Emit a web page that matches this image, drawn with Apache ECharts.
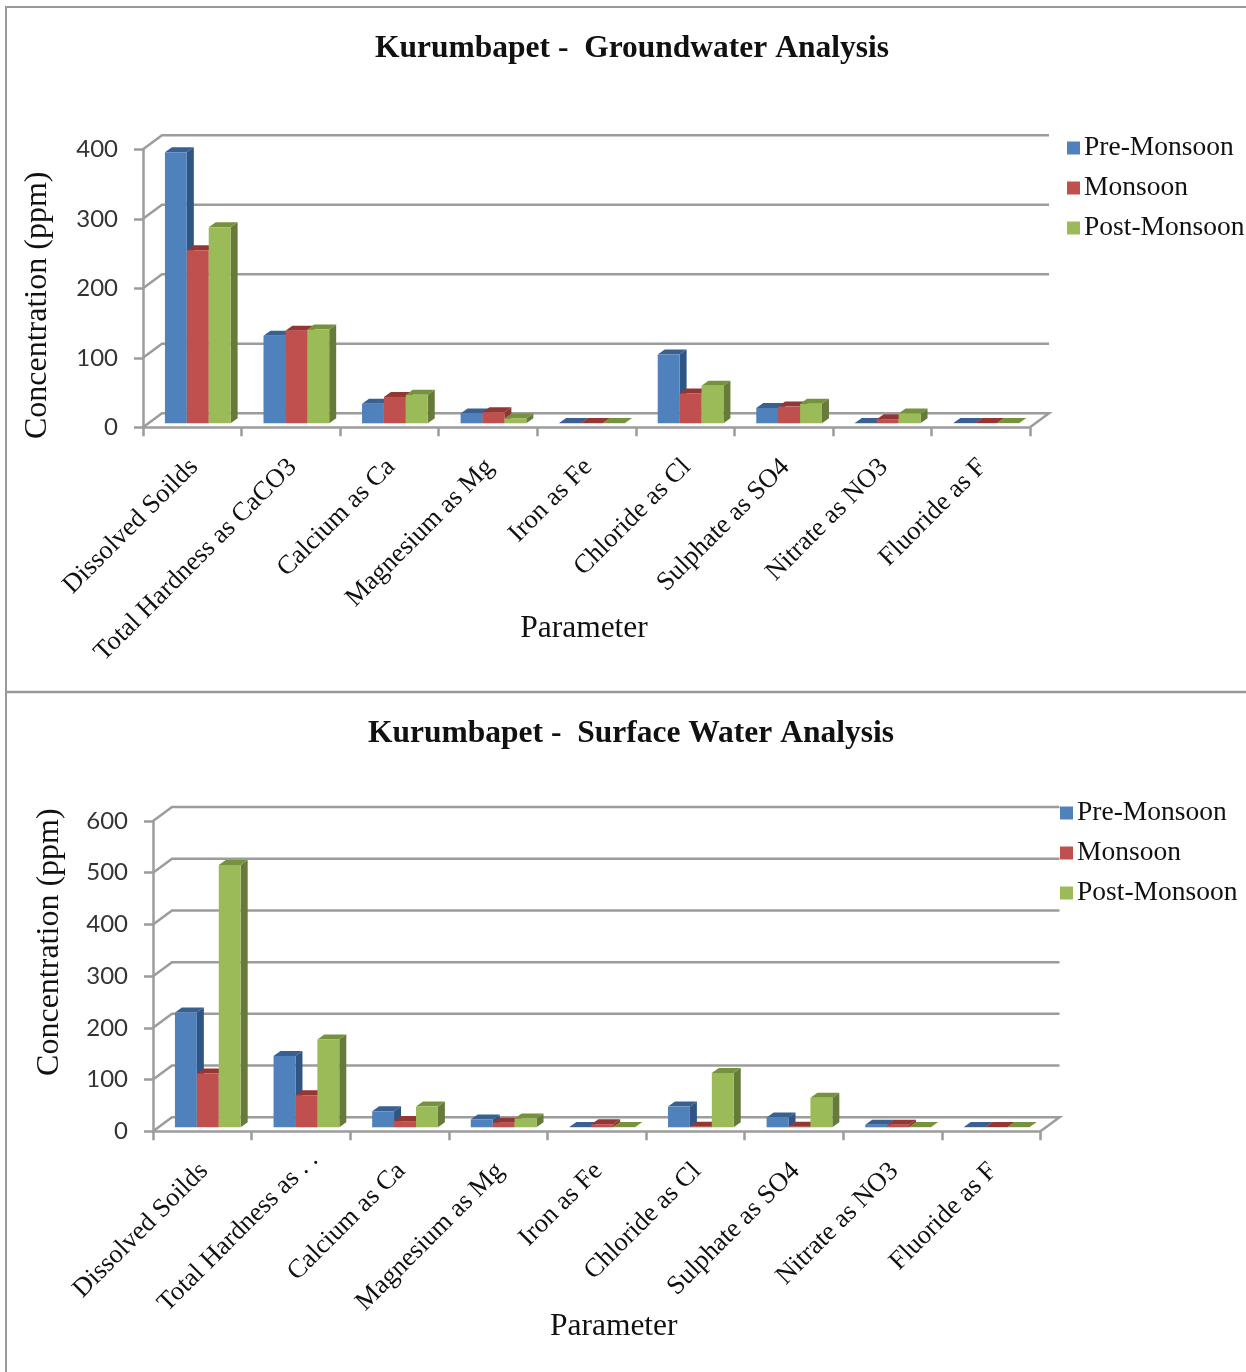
<!DOCTYPE html>
<html>
<head>
<meta charset="utf-8">
<title>Kurumbapet water analysis</title>
<style>html,body{margin:0;padding:0;background:#fff}#chart{width:1246px;height:1372px}</style>
<script src="https://cdn.jsdelivr.net/npm/echarts@6/dist/echarts.min.js"></script>
</head>
<body>
<div id="chart"></div>
<script>
// Category labels
const groundCategories = ['Dissolved Soilds','Total Hardness as CaCO3','Calcium as Ca','Magnesium as Mg','Iron as Fe','Chloride as Cl','Sulphate as SO4','Nitrate as NO3','Fluoride as F'];
const surfaceCategories = ['Dissolved Soilds','Total Hardness as . .','Calcium as Ca','Magnesium as Mg','Iron as Fe','Chloride as Cl','Sulphate as SO4','Nitrate as NO3','Fluoride as F'];
const shortenedLabel = 'Total Hardness as . .';

// Season names
const seasons = ['Pre-Monsoon','Monsoon','Post-Monsoon'];

// Groundwater concentrations (ppm)
const groundPre  = [390,126,28,14,0.5,99,22,0.5,0.3];
const groundMon  = [249,133,38,16,0.5,43,24,6,0.3];
const groundPost = [282,135,41,7,0.5,54,28,14,0.3];

// Surface water concentrations (ppm)
const surfacePre  = [222,138,31,15,0.5,40,19,5,0.5];
const surfaceMon  = [104,62,12,9,6,1,1,5,0.5];
const surfacePost = [507,170,40,17,0.5,105,57,0.5,0.5];

// Value axis ticks
const groundTicks = [0,100,200,300,400];
const surfaceTicks = [0,100,200,300,400,500,600];

// Face colours per season: front, side, top
const faces = [
  ['#4F81BD','#2F5585','#386090'],
  ['#C0504D','#8A3836','#943634'],
  ['#9BBB59','#667A39','#76923C']
];

// Projection of the pseudo-3D box
const WALL_DX = 19, WALL_DY = -14;   // floor depth
const BAR_DX = 5.5, BAR_DY = -4;     // bars stand inside the floor
const DEPTH_DX = 7, DEPTH_DY = -5;   // depth of one bar
const GRID_LINE = '#9C9C9C';
const LINE_W = 2.5;
const SERIF = '"Liberation Serif","Times New Roman",serif';

function quad(p, fill) {
  return { type: 'polygon', shape: { points: p }, style: { fill: fill } };
}

function renderBar(seasonIndex) {
  return function (params, api) {
    const i = api.value(0), v = api.value(1);
    const base = api.coord([i, 0]);
    const top = api.coord([i, v]);
    const w = api.size([1, 0])[0] / 4.5;
    const x0 = base[0] - 1.5 * w + seasonIndex * w + BAR_DX;
    const x1 = x0 + w;
    const yb = base[1] + BAR_DY;
    const yt = top[1] + BAR_DY;
    const c = faces[seasonIndex];
    return {
      type: 'group',
      children: [
        quad([[x1, yb], [x1 + DEPTH_DX, yb + DEPTH_DY], [x1 + DEPTH_DX, yt + DEPTH_DY], [x1, yt]], c[1]),
        quad([[x0, yt], [x1, yt], [x1 + DEPTH_DX, yt + DEPTH_DY], [x0 + DEPTH_DX, yt + DEPTH_DY]], c[2]),
        quad([[x0, yb], [x1, yb], [x1, yt], [x0, yt]], c[0])
      ]
    };
  };
}

function renderWall(params, api) {
  const sys = params.coordSys;
  const y = api.coord([0, api.value(0)])[1];
  const xl = sys.x, xr = sys.x + sys.width;
  const pts = [[xl, y], [xl + WALL_DX, y + WALL_DY], [xr + WALL_DX, y + WALL_DY]];
  if (api.value(0) === 0) pts.push([xr, y]);
  return {
    type: 'polyline',
    shape: { points: pts },
    style: { stroke: GRID_LINE, lineWidth: LINE_W, fill: 'none' }
  };
}

function panelSeries(index, ticks, values) {
  const out = [{
    type: 'custom',
    name: 'walls',
    xAxisIndex: index, yAxisIndex: index,
    renderItem: renderWall,
    encode: { y: 0 },
    silent: true,
    z: 1,
    data: ticks.map(t => [t])
  }];
  values.forEach((vals, s) => {
    out.push({
      type: 'custom',
      name: seasons[s],
      xAxisIndex: index, yAxisIndex: index,
      renderItem: renderBar(s),
      encode: { x: 0, y: 1 },
      itemStyle: { color: faces[s][0] },
      z: 2,
      data: vals.map((v, i) => [i, v])
    });
  });
  return out;
}

// Every label keeps a gap at its end, except the shortened one,
// which runs further along its diagonal.
const LABEL_FONT = { fontFamily: SERIF, fontSize: 26.5, lineHeight: 37, color: '#111' };

function xAxisOf(index, cats, nameGap, namePadding) {
  return {
    type: 'category', gridIndex: index, data: cats, boundaryGap: true,
    axisLine: { show: true, onZero: false, lineStyle: { color: GRID_LINE, width: LINE_W } },
    axisTick: { show: true, alignWithLabel: false, length: 9, lineStyle: { color: GRID_LINE, width: LINE_W } },
    axisLabel: Object.assign({
      interval: 0, rotate: 45, margin: 11.4, verticalAlign: 'top', hideOverlap: false,
      formatter: v => v === shortenedLabel ? '{s|' + v + '}' : '{r|' + v + '}',
      rich: {
        r: Object.assign({ padding: [0, 16, 0, 0] }, LABEL_FONT),
        s: Object.assign({}, LABEL_FONT)
      }
    }, LABEL_FONT),
    splitLine: { show: false },
    name: 'Parameter', nameLocation: 'middle', nameGap: nameGap, nameMoveOverlap: false,
    nameTextStyle: { color: '#111', fontFamily: SERIF, fontSize: 31.5, padding: namePadding }
  };
}

function yAxisOf(index, max, nameGap, namePadding) {
  return {
    type: 'value', gridIndex: index, min: 0, max: max, interval: 100,
    axisLine: { show: true, lineStyle: { color: GRID_LINE, width: LINE_W } },
    axisTick: { show: true, length: 9, lineStyle: { color: GRID_LINE, width: LINE_W } },
    axisLabel: { margin: 25, color: '#333', fontFamily: 'Lato', fontSize: 24 },
    splitLine: { show: false },
    name: 'Concentration (ppm)', nameLocation: 'middle', nameGap: nameGap, nameMoveOverlap: false,
    nameTextStyle: { color: '#111', fontFamily: SERIF, fontSize: 32, padding: namePadding }
  };
}

function titleOf(text, cx, top) {
  return { text: text, left: cx, top: top, textAlign: 'center', padding: 0,
    textStyle: { fontFamily: SERIF, fontWeight: 'bold', fontSize: 31.5, color: '#111' } };
}

function legendOf(left, top) {
  return {
    data: seasons, orient: 'vertical', left: left, top: top, padding: 0,
    icon: 'rect', itemWidth: 13, itemHeight: 13, itemGap: 10,
    selectedMode: false,
    textStyle: { fontFamily: SERIF, fontSize: 27.5, color: '#111', lineHeight: 26, padding: [4, 0, 0, -1] }
  };
}

const chart = echarts.init(document.getElementById('chart'), null, { renderer: 'canvas' });
chart.setOption({
  backgroundColor: '#fff',
  animation: false,
  title: [
    titleOf('Kurumbapet -  Groundwater Analysis', 632, 33),
    titleOf('Kurumbapet -  Surface Water Analysis', 631, 718)
  ],
  legend: [legendOf(1067, 133), legendOf(1060, 798)],
  grid: [
    { left: 143, top: 149.3, width: 887, height: 278, outerBoundsMode: 'none' },
    { left: 153, top: 821, width: 887.5, height: 310.3, outerBoundsMode: 'none' }
  ],
  xAxis: [xAxisOf(0, groundCategories, 185, [0, 5, 0, 0]), xAxisOf(1, surfaceCategories, 179, [0, 0, 0, 34])],
  yAxis: [yAxisOf(0, 400, 89, [0, 34, 0, 0]), yAxisOf(1, 600, 87, [0, 0, 0, 68])],
  series: [
    ...panelSeries(0, groundTicks, [groundPre, groundMon, groundPost]),
    ...panelSeries(1, surfaceTicks, [surfacePre, surfaceMon, surfacePost])
  ],
  graphic: [
    { type: 'polyline', shape: { points: [[1246, 7], [6, 7], [6, 1372]] }, style: { stroke: '#999', lineWidth: 2, fill: 'none' }, silent: true },
    { type: 'line', shape: { x1: 6, y1: 692, x2: 1246, y2: 692 }, style: { stroke: '#999', lineWidth: 2.5 }, silent: true }
  ]
});
</script>
</body>
</html>
